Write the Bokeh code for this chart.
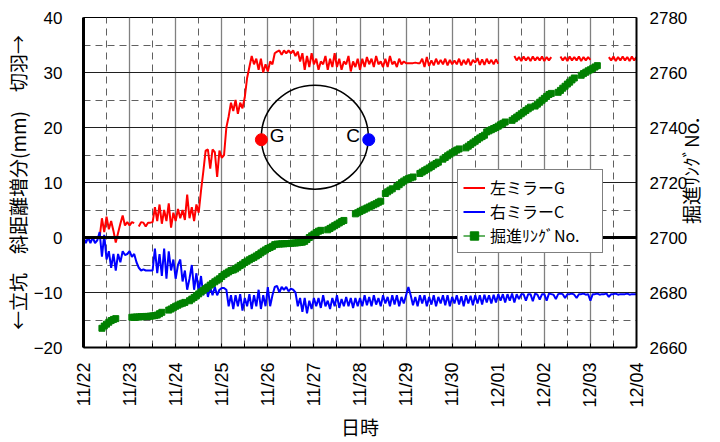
import math
from bokeh.plotting import figure
from bokeh.models import Range1d, LinearAxis, FixedTicker, Span, Legend, LegendItem, ColumnDataSource
from bokeh.core.properties import value
from bokeh.embed import file_html
from bokeh.resources import INLINE

nan = float("nan")

# ---------------- data ----------------
STEP = 0.05  # sampling interval in days, starting 11/22 00:00
x_tick_labels = ["11/22", "11/23", "11/24", "11/25", "11/26", "11/27", "11/28",
                 "11/29", "11/30", "12/01", "12/02", "12/03", "12/04"]
left_ticks = [-20, -10, 0, 10, 20, 30, 40]
right_ticks = [2660, 2680, 2700, 2720, 2740, 2760, 2780]

red_G = [
    0, 0, 0, 0, 0, 0, 0, 0,
    3.5, 1.0, 3.8, 1.5, 3.0, 1.2, -0.9,
    0.8, 2.5, 4.0, 2.2, 2.8, 2.2, 2.8, 2.6,
    nan,
    2.0, 2.8, 2.7, 2.0, 2.7, 2.7, 2.8,
    5.5, 3.0, 6.0, 2.5, 5.0, 3.0, 6.2, 1.8, 4.5, 3.0, 5.2, 3.5, 5.0, 3.2, 7.8, 3.5, 5.5, 3.0, 6.0, 4.5,
    8.5, 12.0, 15.8, 16.0, 12.5, 16.0, 15.5, 11.0, 15.8, 14.5,
    15.0, 20.0, 22.0, 24.5, 23.0, 25.0, 22.5, 24.5, 23.5, 25.5,
    29.0, 31.0, 33.0, 31.5, 32.5, 30.5, 32.5, 30.0, 31.5, 30.2,
    32.0, 31.5, 33.5, 33.8, 34.0, 33.2, 34.0, 33.5, 34.0, 33.5,
    34.0, 33.0, 33.8, 32.0, 33.5, 30.5, 33.0, 31.0, 33.5, 31.5,
    32.5, 30.5, 32.0, 31.5, 33.0, 30.5, 32.5, 31.0, 33.5, 31.0,
    32.5, 30.5, 32.0, 31.5, 33.0, 30.2, 32.0, 31.0, 32.5, 30.5,
    32.5, 31.0, 32.8, 31.5, 32.5, 31.0, 33.0, 31.5, 32.0, 31.0,
    32.5, 31.0, 33.0, 31.5, 32.0, 31.0, 32.5, 31.5, 32.0, 31.7,
    31.7, 31.7, 31.7, 31.8, 31.7, 31.7, 32.5, 31.0, 32.8, 31.2,
    32.2, 31.3, 32.5, 31.5, 32.3, 31.5, 32.5, 31.3, 32.3, 31.5,
    32.2, 31.5, 32.5, 31.3, 32.3, 31.5, 32.5, 31.3, 32.3, 31.8,
    32.6, 31.4, 32.4, 31.4, 32.5, 31.6, 32.3, 31.5, 32.4, 31.6,
    nan, nan, nan, nan, nan, nan,
    33.0, 32.2, 32.8, 32.1, 32.9, 32.2, 32.8, 32.1, 32.9, 32.2, 32.8, 32.2, 32.9, 32.1, 32.8, 32.2, 32.8,
    nan, nan, nan,
    32.9, 32.2, 32.8, 32.1, 32.9, 32.2, 32.8, 32.2, 32.9, 32.1, 32.8, 32.2, 32.8, 32.3,
    nan, nan, nan, nan, nan, nan, nan,
    32.8, 32.2, 32.9, 32.1, 32.8, 32.2, 32.9, 32.2, 32.8, 32.1, 32.9, 32.2, 32.8,
]

blue_C = [
    0, -1.0, 0, -1.0, 0, -1.0, -0.5,
    1.0, -3.5, 0.5, -4.0, -2.5, -5.5, -3.0, -6.0,
    -3.0, -4.5, -2.5, -3.2, -3.0, -2.5, -3.5, -3.0, -4.5, -5.5, -6.0, -5.8, -6.0, -6.0, -6.0, -6.0,
    -2.0, -6.5, -3.0, -7.0, -2.0, -7.5, -2.5, -6.0, -4.0, -7.5, -5.0, -4.0, -8.0, -6.0, -9.5, -7.5, -5.0, -9.5, -6.5, -10.0,
    -7.0, -10.5, -8.5, -10.8, -9.0, -10.5, -9.0, -10.5, -9.5, -9.2,
    -9.2, -9.5, -12.5, -10.5, -13.0, -10.5, -12.5, -10.3, -13.3, -11.0,
    -12.5, -10.3, -13.0, -10.5, -12.5, -9.5, -13.0, -10.5, -12.5, -9.0,
    -12.5, -10.5, -9.0, -8.8, -10.0, -9.0, -9.5, -9.0, -9.8, -9.3,
    -9.5, -10.0, -12.5, -11.0, -13.5, -11.0, -13.8, -11.5, -13.0, -11.0,
    -12.5, -11.0, -12.8, -10.5, -12.5, -11.5, -13.0, -11.0, -12.5, -10.5,
    -12.8, -11.2, -12.5, -10.8, -12.5, -11.0, -12.8, -11.0, -12.5, -11.0,
    -12.5, -10.5, -12.3, -10.8, -12.5, -10.5, -12.2, -11.0, -12.5, -10.5,
    -12.0, -10.8, -12.5, -10.5, -12.2, -10.5, -12.5, -10.8, -12.0, -10.5,
    -9.0, -10.5, -12.3, -10.8, -12.5, -10.5, -12.0, -10.5, -12.5, -10.8,
    -12.2, -10.5, -12.5, -10.8, -12.0, -10.5, -12.3, -10.5, -12.5, -10.8,
    -12.0, -10.5, -12.2, -10.7, -12.5, -10.5, -12.0, -10.6, -12.3, -10.5,
    -12.0, -10.5, -12.2, -10.4, -11.8, -10.5, -12.0, -10.4, -11.8, -10.3,
    -11.5, -10.3, -11.8, -10.3, -11.5, -10.2, -11.8, -10.3, -11.2, -10.3,
    -10.3, -11.5, -10.3, -10.3, -11.6, -10.2, -10.4, -11.3, -10.3, -10.3,
    -11.5, -10.2, -10.3, -10.4, -11.2, -10.3, -10.2, -10.3, -11.0, -10.3,
    -10.3, -10.2, -10.4, -11.0, -10.3, -10.3, -10.2, -10.4, -10.3, -11.5,
    -10.3, -10.3, -10.2, -10.4, -10.3, -10.3, -10.2, -10.8, -10.3, -10.3,
    -10.2, -10.4, -10.3, -10.3, -10.3, -10.2, -10.4, -10.3, -10.3, -10.3,
]

ring_no = [
    nan, nan, nan, nan, nan, nan, nan, nan,
    2667.0, 2667.8, 2668.5, 2669.2, 2669.8, 2670.2, 2670.5,
    nan, nan, nan, nan, nan, nan,
    2671.0, 2671.0, 2671.1, 2671.1, 2671.2, 2671.2, 2671.3, 2671.3, 2671.4, 2671.5, 2671.6, 2671.8, 2672.3, 2672.8,
    nan, nan,
    2673.6, 2674.0, 2674.5, 2675.0, 2675.4, 2675.8, 2676.1, 2676.4,
    nan,
    2677.0, 2677.6, 2678.2, 2678.8, 2679.5, 2680.2, 2680.8, 2681.4, 2682.0, 2682.7,
    2683.3, 2683.9, 2684.5, 2685.0, 2685.8, 2686.5, 2687.0, 2687.5, 2688.0,
    2688.2, 2688.6, 2689.2, 2689.8, 2690.3, 2690.9, 2691.4, 2691.9, 2692.4, 2692.8,
    2693.3, 2693.8, 2694.4, 2695.0, 2695.5, 2696.0, 2696.4, 2696.8, 2697.4, 2697.6,
    2697.6, 2697.7, 2697.7, 2697.8, 2697.8, 2697.9, 2698.0, 2698.0, 2698.1, 2698.2,
    2698.3, 2698.6, 2699.3, 2700.0, 2700.6, 2701.2, 2701.8, 2702.3, 2702.6,
    nan, nan,
    2702.8, 2703.3, 2703.8, 2704.3, 2704.8, 2705.3, 2705.8, 2706.2,
    nan, nan, nan, nan,
    2708.6, 2709.0, 2709.5, 2709.9, 2710.3, 2710.7, 2711.1, 2711.5, 2711.9, 2712.3, 2712.8, 2713.2,
    nan,
    2716.0, 2716.6, 2717.2, 2717.7,
    nan,
    2718.5, 2719.2, 2719.9, 2720.5, 2721.0, 2721.4, 2721.7, 2722.0,
    nan, nan,
    2723.3, 2723.8, 2724.3, 2724.8, 2725.3, 2725.8, 2726.4, 2726.9, 2727.4,
    nan,
    2728.5, 2729.1, 2729.7, 2730.3, 2730.8, 2731.3, 2731.8, 2732.2,
    nan, nan,
    2732.6, 2733.2, 2733.8, 2734.4, 2735.0, 2735.6, 2736.2, 2736.7, 2737.2,
    2738.4, 2738.8, 2739.2, 2739.6, 2740.0, 2740.5, 2741.0, 2741.5, 2742.0,
    nan, nan,
    2742.6, 2743.2, 2743.8, 2744.4, 2745.0, 2745.6, 2746.2, 2746.8, 2747.4,
    nan,
    2747.8, 2748.5, 2749.2, 2749.9, 2750.6, 2751.3, 2752.0, 2752.4,
    nan, nan,
    2752.8, 2753.5, 2754.3, 2755.0, 2755.8, 2756.5, 2757.3, 2758.0,
    nan, nan,
    2759.0, 2759.6, 2760.1, 2760.6, 2761.0, 2761.5, 2762.0, 2762.5,
    nan, nan, nan, nan, nan, nan, nan, nan, nan, nan, nan, nan, nan, nan, nan, nan, nan,
]

series_labels = ["左ミラーG", "右ミラーC", "掘進ﾘﾝｸﾞNo."]
y_title = "←立坑　斜距離増分(mm)　切羽→"
x_title = "日時"

# inset sketch (cross-section with gauge points G and C)
inset_center = (5.02, 18.25)
inset_G = (3.86, 17.78)
inset_C = (6.19, 17.78)
inset_G_text = (4.20, 18.56)
inset_C_text = (5.85, 18.56)

# ---------------- figure ----------------
n = min(len(red_G), len(blue_C), len(ring_no))
t = [i * STEP for i in range(n)]

JP = "Noto Sans CJK JP"
LAT = "Liberation Sans"

p = figure(width=720, height=442, x_range=Range1d(0, 12), y_range=Range1d(-20, 40),
           output_backend="svg", toolbar_location=None,
           min_border_left=83, min_border_right=84, min_border_top=17, min_border_bottom=95)
p.background_fill_color = "white"
p.border_fill_color = "white"
p.outline_line_color = "black"
p.outline_line_width = 1
p.extra_y_ranges = {"ring": Range1d(2660, 2780)}


def style_title(ax, text, standoff):
    ax.axis_label = text
    ax.axis_label_text_font = JP
    ax.axis_label_text_font_size = "19px"
    ax.axis_label_text_font_style = "normal"
    ax.axis_label_text_color = "black"
    ax.axis_label_text_line_height = 1.0
    ax.axis_label_standoff = standoff


# x axis
xax = p.xaxis[0]
xax.ticker = FixedTicker(ticks=list(range(13)), minor_ticks=[i + 0.5 for i in range(12)])
xax.major_label_overrides = {i: lab for i, lab in enumerate(x_tick_labels)}
xax.major_label_orientation = math.pi / 2
xax.major_label_text_font = LAT
xax.major_label_text_font_size = "18px"
xax.major_label_text_color = "black"
xax.major_label_standoff = 15
xax.major_tick_in = 4
xax.major_tick_out = 0
xax.minor_tick_in = 4
xax.minor_tick_out = 0
xax.major_tick_line_color = "black"
xax.minor_tick_line_color = "black"
xax.axis_line_width = 2
xax.axis_line_color = "black"
style_title(xax, x_title, 2)

# left axis
yax = p.yaxis[0]
yax.ticker = FixedTicker(ticks=left_ticks, minor_ticks=[-15, -5, 5, 15, 25, 35])
yax.major_label_overrides = {v: (str(v).replace("-", "\u2212")) for v in left_ticks}
yax.major_label_text_font = LAT
yax.major_label_text_font_size = "17px"
yax.major_label_text_color = "black"
yax.major_label_standoff = 21
yax.major_tick_in = 0
yax.major_tick_out = 0
yax.minor_tick_in = 0
yax.minor_tick_out = 0
yax.axis_line_width = 3
yax.axis_line_color = "black"
style_title(yax, y_title, 0)

# right axis (title reads bottom-to-top; leading ideographic spaces centre it
# when it is anchored at the lower end of the axis)
rax = LinearAxis(y_range_name="ring")
rax.ticker = FixedTicker(ticks=right_ticks)
rax.major_label_text_font = LAT
rax.major_label_text_font_size = "17px"
rax.major_label_text_color = "black"
rax.major_label_standoff = 13
rax.major_tick_in = 0
rax.major_tick_out = 0
rax.minor_tick_in = 0
rax.minor_tick_out = 0
rax.axis_line_width = 2
rax.axis_line_color = "black"
style_title(rax, "\u3000" * 6 + "\u2002" + series_labels[2], 0)
rax.axis_label_orientation = math.pi / 2
rax.axis_label_align = "start"
rax.axis_label_text_align = "left"
rax.axis_label_text_baseline = "top"
p.add_layout(rax, "right")

# grids
p.xgrid.grid_line_color = "#808080"
p.xgrid.grid_line_width = 1.3
p.xgrid.minor_grid_line_color = "#606060"
p.xgrid.minor_grid_line_dash = "7 5"
p.xgrid.minor_grid_line_width = 1
p.ygrid.grid_line_color = "#202020"
p.ygrid.grid_line_width = 1
p.ygrid.minor_grid_line_color = "#606060"
p.ygrid.minor_grid_line_dash = "7 5"
p.ygrid.minor_grid_line_width = 1

p.add_layout(Span(location=0, dimension="width", line_color="black", line_width=3))

src = ColumnDataSource(dict(t=t, g=red_G[:n], c=blue_C[:n], r=ring_no[:n]))
r_red = p.line("t", "g", source=src, line_color="#FF0000", line_width=2)
r_blue = p.line("t", "c", source=src, line_color="#0000FF", line_width=2)
r_gl = p.line("t", "r", source=src, y_range_name="ring", line_color="#008000", line_width=1.2)
r_gs = p.scatter("t", "r", source=src, y_range_name="ring", marker="square", size=6,
                 fill_color="#008000", line_color="#008000")

# inset
p.ellipse(x=[inset_center[0]], y=[inset_center[1]], width=107, height=104,
          width_units="screen", height_units="screen",
          fill_color=None, line_color="black", line_width=1.5)
p.scatter(x=[inset_G[0]], y=[inset_G[1]], size=12, marker="circle", fill_color="#FF0000", line_color="#FF0000")
p.scatter(x=[inset_C[0]], y=[inset_C[1]], size=12, marker="circle", fill_color="#0000FF", line_color="#0000FF")
p.text(x=[inset_G_text[0], inset_C_text[0]], y=[inset_G_text[1], inset_C_text[1]], text=["G", "C"],
       text_font=value(LAT), text_font_size="19px", text_align="center", text_baseline="middle",
       text_color="black")

legend = Legend(items=[LegendItem(label=series_labels[0], renderers=[r_red]),
                       LegendItem(label=series_labels[1], renderers=[r_blue]),
                       LegendItem(label=series_labels[2], renderers=[r_gl, r_gs])],
                location=(374, 94))
legend.label_text_font = JP
legend.label_text_font_size = "16px"
legend.label_text_color = "black"
legend.label_height = 21
legend.label_width = 107
legend.glyph_height = 21
legend.glyph_width = 22
legend.label_standoff = 5
legend.spacing = 0
legend.padding = 5
legend.margin = 0
legend.border_line_color = "black"
legend.border_line_width = 1
legend.background_fill_color = "white"
legend.background_fill_alpha = 1
p.add_layout(legend)

open("out.html", "w").write(file_html(p, INLINE))
